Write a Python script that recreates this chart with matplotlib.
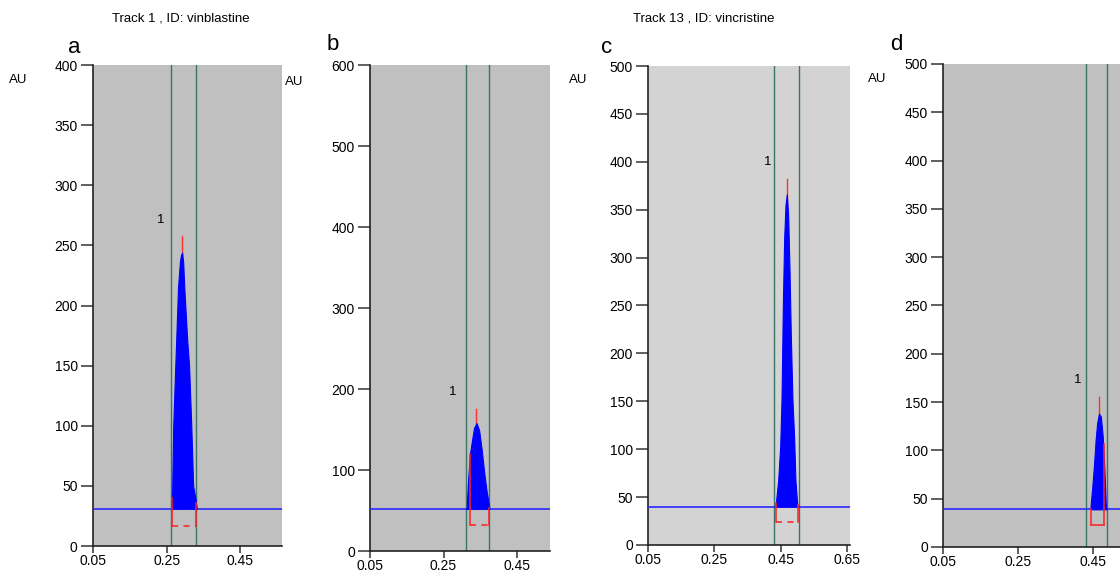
import matplotlib.pyplot as plt

plt.rcParams['font.family'] = ['Liberation Sans', 'DejaVu Sans']

# panel data (Rf, AU)
panels = ['a', 'b', 'c', 'd']
y_max = [400, 600, 500, 500]
y_ticks = [[0, 50, 100, 150, 200, 250, 300, 350, 400],
           [0, 100, 200, 300, 400, 500, 600],
           [0, 50, 100, 150, 200, 250, 300, 350, 400, 450, 500],
           [0, 50, 100, 150, 200, 250, 300, 350, 400, 450, 500]]
x_ticks = [[0.05, 0.25, 0.45],
           [0.05, 0.25, 0.45],
           [0.05, 0.25, 0.45, 0.65],
           [0.05, 0.25, 0.45]]
x_max = [0.564, 0.54, 0.66, 0.522]
baseline = [31, 52, 40, 39]
window = [(0.262, 0.330), (0.311, 0.374), (0.429, 0.506), (0.431, 0.487)]

peak_x = [
    [0.262, 0.265, 0.268, 0.273, 0.276, 0.281, 0.286, 0.289, 0.292, 0.295, 0.298, 0.306, 0.311, 0.317, 0.322, 0.328, 0.332],
    [0.311, 0.313, 0.317, 0.322, 0.327, 0.333, 0.340, 0.347, 0.354, 0.360, 0.367, 0.375],
    [0.434, 0.436, 0.443, 0.449, 0.453, 0.457, 0.461, 0.465, 0.469, 0.473, 0.477, 0.481, 0.486, 0.491, 0.495, 0.500, 0.502],
    [0.443, 0.444, 0.448, 0.453, 0.457, 0.461, 0.466, 0.471, 0.476, 0.480, 0.484, 0.486],
]
peak_y = [
    [31, 45, 100, 145, 171, 215, 236, 242, 244, 236, 215, 171, 150, 100, 50, 40, 31],
    [52, 53, 88, 120, 135, 152, 158, 149, 125, 100, 75, 53],
    [40, 44, 68, 103, 152, 250, 320, 355, 366, 345, 290, 220, 152, 113, 68, 44, 40],
    [39, 45, 62, 87, 111, 128, 138, 135, 114, 83, 45, 39],
]
apex_x = [0.292, 0.338, 0.469, 0.467]
apex_top = [258, 175, 382, 155]
bracket_x = [(0.264, 0.329), (0.323, 0.375), (0.436, 0.502), (0.444, 0.480)]
bracket_bottom = [17, 32, 24, 23]
bracket_top = [(40, 36), (120, 53), (44, 42), (39, 107)]
bracket_dashed = [True, True, True, False]
label_pos = [(0.235, 271), (0.275, 196), (0.41, 400), (0.41, 173)]
bg = ['#c0c0c0', '#c0c0c0', '#d3d3d3', '#c0c0c0']

# axes rectangles [left, bottom, width, height] in figure fraction
rects = [[0.083, 0.0504, 0.169, 0.8365],
         [0.3304, 0.0417, 0.1607, 0.845],
         [0.5786, 0.0522, 0.1804, 0.833],
         [0.842, 0.0487, 0.158, 0.84]]
letter_pos = [(0.061, 0.908), (0.292, 0.913), (0.537, 0.908), (0.795, 0.913)]
au_pos = [(0.008, 0.855), (0.254, 0.852), (0.508, 0.855), (0.775, 0.858)]

fig = plt.figure(figsize=(11.2, 5.75), dpi=100)

for i in range(4):
    ax = fig.add_axes(rects[i])
    ax.set_facecolor(bg[i])
    ax.set_xlim(0.05, x_max[i])
    ax.set_ylim(0, y_max[i])
    ax.set_xticks(x_ticks[i])
    ax.set_xticklabels([f'{t:.2f}' for t in x_ticks[i]])
    ax.set_yticks(y_ticks[i])
    for s in ['top', 'right']:
        ax.spines[s].set_visible(False)
    for s in ['left', 'bottom']:
        ax.spines[s].set_color('#222222')
        ax.spines[s].set_linewidth(1.2)
    ax.tick_params(axis='y', direction='out', length=9, width=1.2, color='#444444', labelsize=10, pad=2)
    ax.tick_params(axis='x', direction='out', length=5, width=1.2, color='#444444', labelsize=10, pad=1)

    # integration window
    for wx in window[i]:
        ax.axvline(wx, color='#3b7466', lw=1.0, zorder=2)
    # baseline
    ax.axhline(baseline[i], color='#2a2aff', lw=1.2, zorder=3)
    # apex marker
    ax.plot([apex_x[i], apex_x[i]], [baseline[i], apex_top[i]], color='#ff3030', lw=1.0, zorder=3)
    # peak
    ax.fill_between(peak_x[i], baseline[i], peak_y[i], color='#0000ff', lw=0.8, edgecolor='#0000ff', zorder=4)
    # bracket
    bx0, bx1 = bracket_x[i]
    bb = bracket_bottom[i]
    t0, t1 = bracket_top[i]
    ax.plot([bx0, bx0], [bb, t0], color='#ff2020', lw=1.1, zorder=5)
    ax.plot([bx1, bx1], [bb, t1], color='#ff2020', lw=1.1, zorder=5)
    if bracket_dashed[i]:
        ax.plot([bx0, bx1], [bb, bb], color='#ff2020', lw=1.1, zorder=5, dashes=(4, 3.5))
    else:
        ax.plot([bx0, bx1], [bb, bb], color='#ff2020', lw=1.1, zorder=5)
    ax.text(label_pos[i][0], label_pos[i][1], '1', fontsize=9.5, ha='center', va='center')

    fig.text(letter_pos[i][0], letter_pos[i][1], panels[i], fontsize=16)
    fig.text(au_pos[i][0], au_pos[i][1], 'AU', fontsize=9.5)

fig.text(0.161, 0.962, 'Track 1 , ID: vinblastine', fontsize=9.5, ha='center')
fig.text(0.628, 0.962, 'Track 13 , ID: vincristine', fontsize=9.5, ha='center')

fig.savefig('out.png', dpi=100)
